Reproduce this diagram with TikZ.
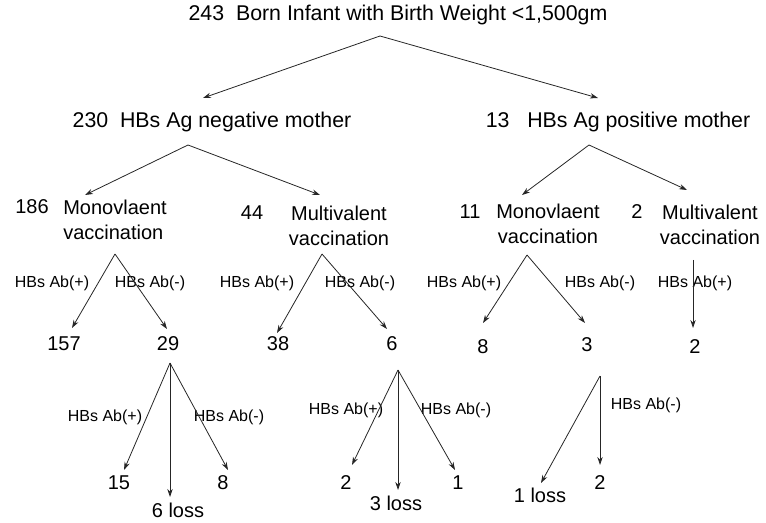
\documentclass[tikz,border=0pt]{standalone}
\usepackage{fontspec}
\setmainfont{Liberation Sans}
\usetikzlibrary{arrows.meta}

\tikzset{
  txt/.style={inner sep=0pt, font=\fontsize{15}{19}\selectfont},
  head/.style={inner sep=0pt, font=\fontsize{16}{19}\selectfont},
  ab/.style={inner sep=0pt, font=\fontsize{12}{14}\selectfont},
  flow/.style={-{Stealth[length=6pt,width=4pt]}, line width=0.6pt, black!85}
}

\begin{document}
\begin{tikzpicture}[x=0.75pt,y=-0.75pt]
\useasboundingbox (0,0) rectangle (766,523);

% levels 0 and 1
\node[head] (birth) at (398,15) {243~~Born Infant with Birth Weight <1,500gm};
\node[head] (neg) at (212,122) {230~~HBs Ag negative mother};
\node[head] (pos) at (618,122) {13~~ HBs Ag positive mother};

% level 2
\node[txt] (n186) at (32,207) {186};
\node[txt, align=left] (mono1) at (115,220) {Monovlaent\\vaccination};
\node[txt] (n44) at (252,213) {44};
\node[txt, align=center] (multi1) at (339,226) {Multivalent\\vaccination};
\node[txt] (n11) at (470,212) {11};
\node[txt, align=center] (mono2) at (548,224) {Monovlaent\\vaccination};
\node[txt] (n2) at (637,212) {2};
\node[txt, align=center] (multi2) at (710,225) {Multivalent\\vaccination};

% antibody labels
\node[ab] (m1p) at (52,283) {HBs Ab(+)};
\node[ab] (m1n) at (150,283) {HBs Ab(-)};
\node[ab] (u1p) at (257,283) {HBs Ab(+)};
\node[ab] (u1n) at (360,283) {HBs Ab(-)};
\node[ab] (m2p) at (464,283) {HBs Ab(+)};
\node[ab] (m2n) at (600,283) {HBs Ab(-)};
\node[ab] (u2p) at (695,283) {HBs Ab(+)};

% level 3
\node[txt] (c157) at (64,344) {157};
\node[txt] (c29) at (168,344) {29};
\node[txt] (c38) at (278,344) {38};
\node[txt] (c6) at (392,344) {6};
\node[txt] (c8) at (483,347) {8};
\node[txt] (c3) at (587,345) {3};
\node[txt] (c2) at (695,347) {2};

% level 4
\node[ab] (l29p) at (105,417) {HBs Ab(+)};
\node[ab] (l29n) at (229,417) {HBs Ab(-)};
\node[ab] (l6p) at (346,410) {HBs Ab(+)};
\node[ab] (l6n) at (456,410) {HBs Ab(-)};
\node[ab] (l3n) at (646,405) {HBs Ab(-)};

\node[txt] (d15) at (119,483) {15};
\node[txt] (d8) at (223,483) {8};
\node[txt] (d6loss) at (178,510) {6 loss};
\node[txt] (e2) at (346,483) {2};
\node[txt] (e1) at (458,483) {1};
\node[txt] (e3loss) at (396,503) {3 loss};
\node[txt] (f1loss) at (540,495) {1 loss};
\node[txt] (f2) at (600,483) {2};

% branch points and arrow ends
\coordinate (birthtop) at (380,36);
\coordinate (negtop) at (188,145);
\coordinate (postop) at (589,145);
\coordinate (mono1top) at (115,254);
\coordinate (multi1top) at (322,254);
\coordinate (mono2top) at (527,255);
\coordinate (multi2top) at (693,260);
\coordinate (c29top) at (170,363);
\coordinate (c6top) at (398,370);
\coordinate (c3top) at (600,376);

\coordinate (negin) at (203,98);
\coordinate (posin) at (598,98);
\coordinate (mono1in) at (85,195);
\coordinate (multi1in) at (320,195);
\coordinate (mono2in) at (522,195);
\coordinate (multi2in) at (687,190);
\coordinate (c157in) at (72,328);
\coordinate (c29in) at (167,329);
\coordinate (c38in) at (277,333);
\coordinate (c6in) at (387,329);
\coordinate (c8in) at (483,323);
\coordinate (c3in) at (585,323);
\coordinate (c2in) at (693,328);
\coordinate (d15in) at (124,470);
\coordinate (d6in) at (170,497);
\coordinate (d8in) at (228,470);
\coordinate (e2in) at (352,465);
\coordinate (e3in) at (398,490);
\coordinate (e1in) at (455,470);
\coordinate (f1in) at (541,483);
\coordinate (f2in) at (600,465);

\draw[flow] (birthtop) -- (negin);
\draw[flow] (birthtop) -- (posin);
\draw[flow] (negtop) -- (mono1in);
\draw[flow] (negtop) -- (multi1in);
\draw[flow] (postop) -- (mono2in);
\draw[flow] (postop) -- (multi2in);

\draw[flow] (mono1top) -- (c157in);
\draw[flow] (mono1top) -- (c29in);
\draw[flow] (multi1top) -- (c38in);
\draw[flow] (multi1top) -- (c6in);
\draw[flow] (mono2top) -- (c8in);
\draw[flow] (mono2top) -- (c3in);
\draw[flow] (multi2top) -- (c2in);

\draw[flow] (c29top) -- (d15in);
\draw[flow] (c29top) -- (d6in);
\draw[flow] (c29top) -- (d8in);
\draw[flow] (c6top) -- (e2in);
\draw[flow] (c6top) -- (e3in);
\draw[flow] (c6top) -- (e1in);
\draw[flow] (c3top) -- (f1in);
\draw[flow] (c3top) -- (f2in);
\end{tikzpicture}
\end{document}
